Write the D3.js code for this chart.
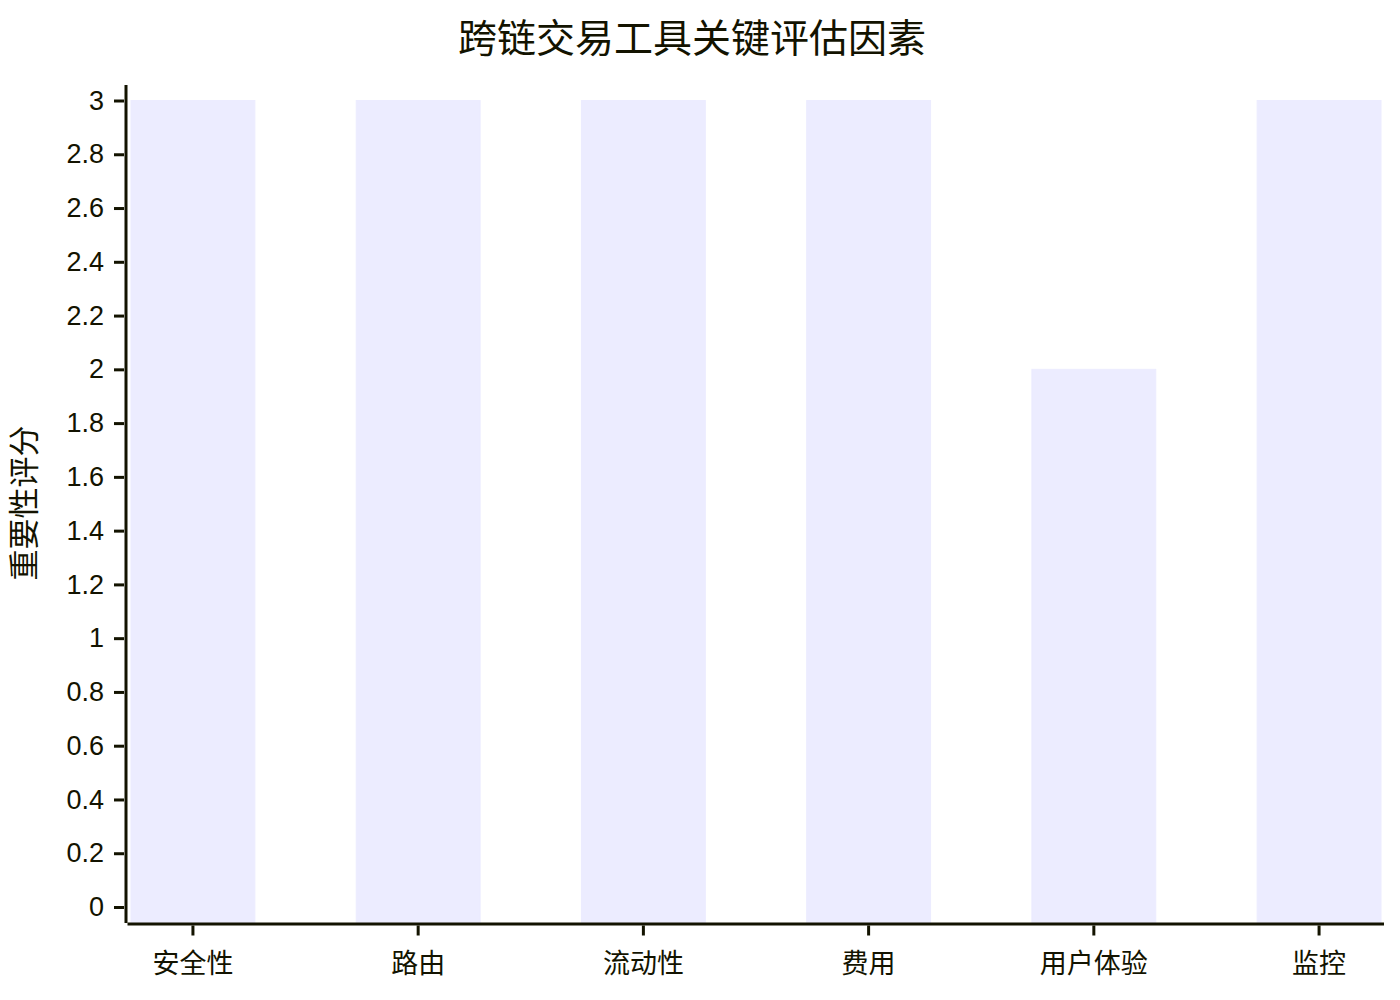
<!DOCTYPE html>
<html>
<head>
<meta charset="utf-8">
<script src="https://cdn.jsdelivr.net/npm/d3@7/dist/d3.min.js"></script>
<style>
  html, body { margin: 0; padding: 0; background: #ffffff; }
  svg { display: block; }
  text { font-family: "Liberation Sans", Arial, "Noto Sans CJK SC", sans-serif; fill: #131300; }
</style>
</head>
<body>
<svg id="chart" width="1400" height="1000"></svg>
<script>
const title = "跨链交易工具关键评估因素";
const yAxisTitle = "重要性评分";
const categories = ["安全性", "路由", "流动性", "费用", "用户体验", "监控"];
const values = [3, 3, 3, 3, 2, 3];
const yTickValues = [0, 0.2, 0.4, 0.6, 0.8, 1, 1.2, 1.4, 1.6, 1.8, 2, 2.2, 2.4, 2.6, 2.8, 3];
const yTickLabels = ["0", "0.2", "0.4", "0.6", "0.8", "1", "1.2", "1.4", "1.6", "1.8", "2", "2.2", "2.4", "2.6", "2.8", "3"];

const axisColor = "#131300";
const barColor = "#ECECFF";

const svg = d3.select("#chart");

const plotLeft = 126, plotRight = 1384, plotTop = 85, plotBottom = 923;

const x = d3.scaleBand()
  .domain(categories)
  .range([131, 1381])
  .paddingInner(0.45)
  .paddingOuter(0);

const y = d3.scaleLinear()
  .domain([0, 3])
  .range([907, 100.5]);

// Bars
svg.append("g").selectAll("rect")
  .data(categories.map((c, i) => ({ c, v: values[i] })))
  .join("rect")
  .attr("x", d => x(d.c))
  .attr("y", d => y(d.v))
  .attr("width", x.bandwidth())
  .attr("height", d => plotBottom - y(d.v))
  .attr("fill", barColor)
  .attr("stroke", barColor)
  .attr("stroke-width", 1);

// Y axis
const yAxis = d3.axisLeft(y)
  .tickValues(yTickValues)
  .tickFormat((d, i) => yTickLabels[i])
  .tickSize(10)
  .tickPadding(10);

const gy = svg.append("g")
  .attr("transform", `translate(${plotLeft - 2},0)`)
  .call(yAxis);
gy.select(".domain").remove();
gy.selectAll(".tick line").attr("stroke", axisColor).attr("stroke-width", 3);
gy.selectAll(".tick text")
  .attr("font-size", 27)
  .attr("fill", axisColor)
  .style("font-family", '"Liberation Sans", Arial, sans-serif');

svg.append("line")
  .attr("x1", plotLeft).attr("x2", plotLeft)
  .attr("y1", plotTop).attr("y2", plotBottom)
  .attr("stroke", axisColor).attr("stroke-width", 3);

// X axis
const xAxis = d3.axisBottom(x)
  .tickSize(10)
  .tickPadding(18);

const gx = svg.append("g")
  .attr("transform", `translate(0,${plotBottom + 2.5})`)
  .call(xAxis);
gx.select(".domain").remove();
gx.selectAll(".tick line").attr("stroke", axisColor).attr("stroke-width", 3);
gx.selectAll(".tick text")
  .attr("font-size", 27)
  .attr("fill", axisColor)
  .style("font-family", '"Noto Sans CJK SC", sans-serif');

svg.append("line")
  .attr("x1", plotLeft + 1.5).attr("x2", plotRight)
  .attr("y1", plotBottom + 1).attr("y2", plotBottom + 1)
  .attr("stroke", axisColor).attr("stroke-width", 3);

// Title
svg.append("text")
  .attr("x", 692)
  .attr("y", 41)
  .attr("text-anchor", "middle")
  .attr("dominant-baseline", "middle")
  .attr("font-size", 39)
  .style("font-family", '"Noto Sans CJK SC", sans-serif')
  .text(title);

// Y axis title
svg.append("text")
  .attr("transform", "translate(27,503) rotate(-90)")
  .attr("text-anchor", "middle")
  .attr("dominant-baseline", "middle")
  .attr("font-size", 31)
  .style("font-family", '"Noto Sans CJK SC", sans-serif')
  .text(yAxisTitle);
</script>
</body>
</html>
